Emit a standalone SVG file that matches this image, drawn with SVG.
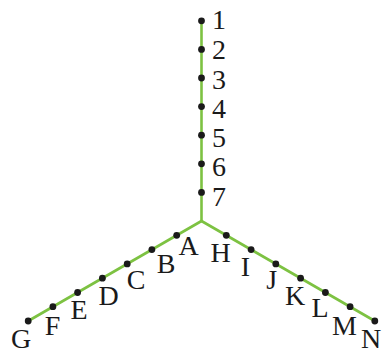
<svg xmlns="http://www.w3.org/2000/svg" width="382" height="352" viewBox="0 0 382 352">
<style>
.ln{stroke:#7dc242;stroke-width:2.6;fill:none;stroke-linecap:round;stroke-linejoin:round}
.dot{fill:#1a1a1a}
.lb{font-family:"Liberation Serif","DejaVu Serif",serif;font-size:28px;fill:#1a1a1a;text-anchor:middle}
</style>
<rect width="382" height="352" fill="#ffffff"/>
<g id="connectors">
<path class="ln" d="M201.5 20.5 V221"/>
<path class="ln" d="M201.5 221 L28.2 321"/>
<path class="ln" d="M201.5 221 L374.8 321"/>
</g>
<g id="n1"><circle class="dot" cx="201.5" cy="20.8" r="3.4"/><text class="lb" x="219" y="29.3">1</text></g>
<g id="n2"><circle class="dot" cx="201.5" cy="49.4" r="3.4"/><text class="lb" x="219" y="59.3">2</text></g>
<g id="n3"><circle class="dot" cx="201.5" cy="78" r="3.4"/><text class="lb" x="219" y="88.8">3</text></g>
<g id="n4"><circle class="dot" cx="201.5" cy="106.6" r="3.4"/><text class="lb" x="219" y="117.7">4</text></g>
<g id="n5"><circle class="dot" cx="201.5" cy="135.2" r="3.4"/><text class="lb" x="219" y="146.7">5</text></g>
<g id="n6"><circle class="dot" cx="201.5" cy="163.8" r="3.4"/><text class="lb" x="219" y="176">6</text></g>
<g id="n7"><circle class="dot" cx="201.5" cy="192.4" r="3.4"/><text class="lb" x="219" y="205.5">7</text></g>
<g id="nA"><circle class="dot" cx="176.7" cy="235.3" r="3.4"/><text class="lb" x="188.5" y="255">A</text></g>
<g id="nB"><circle class="dot" cx="151.9" cy="249.6" r="3.4"/><text class="lb" x="166" y="272.7">B</text></g>
<g id="nC"><circle class="dot" cx="127.2" cy="263.9" r="3.4"/><text class="lb" x="136" y="289">C</text></g>
<g id="nD"><circle class="dot" cx="102.4" cy="278.2" r="3.4"/><text class="lb" x="108.5" y="304.7">D</text></g>
<g id="nE"><circle class="dot" cx="77.6" cy="292.5" r="3.4"/><text class="lb" x="79" y="319">E</text></g>
<g id="nF"><circle class="dot" cx="52.9" cy="306.7" r="3.4"/><text class="lb" x="52.5" y="335">F</text></g>
<g id="nG"><circle class="dot" cx="28.2" cy="321" r="3.4"/><text class="lb" x="21" y="347.5">G</text></g>
<g id="nH"><circle class="dot" cx="226.3" cy="235.3" r="3.4"/><text class="lb" x="220.5" y="262.3">H</text></g>
<g id="nI"><circle class="dot" cx="251.1" cy="249.6" r="3.4"/><text class="lb" x="245.5" y="275.7">I</text></g>
<g id="nJ"><circle class="dot" cx="275.8" cy="263.9" r="3.4"/><text class="lb" x="271.7" y="289">J</text></g>
<g id="nK"><circle class="dot" cx="300.6" cy="278.2" r="3.4"/><text class="lb" x="295" y="305">K</text></g>
<g id="nL"><circle class="dot" cx="325.4" cy="292.5" r="3.4"/><text class="lb" x="320" y="316.7">L</text></g>
<g id="nM"><circle class="dot" cx="350.1" cy="306.7" r="3.4"/><text class="lb" x="344.5" y="335">M</text></g>
<g id="nN"><circle class="dot" cx="374.8" cy="321" r="3.4"/><text class="lb" x="371" y="347.5">N</text></g>
</svg>
